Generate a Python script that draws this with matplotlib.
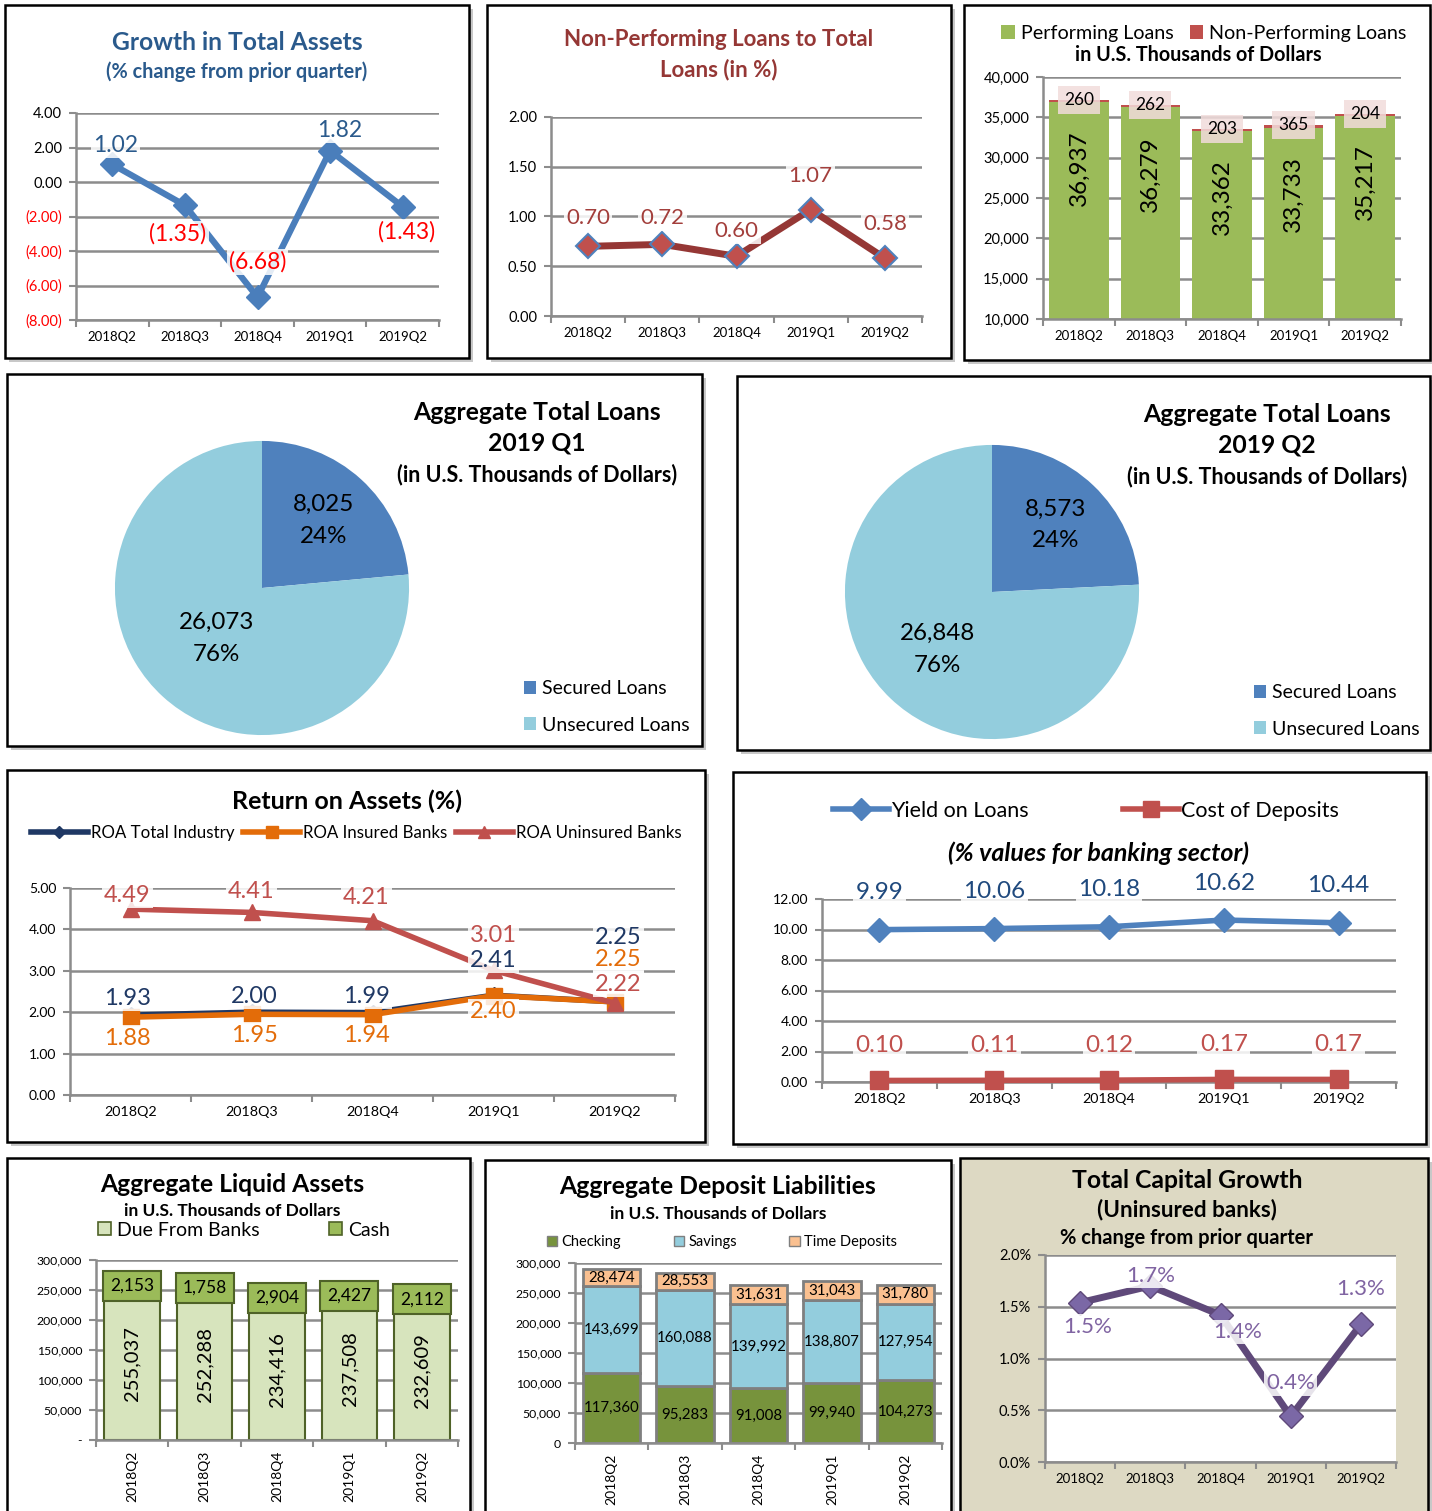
import numpy as np
import matplotlib.pyplot as plt
from matplotlib.patches import Rectangle
from matplotlib.lines import Line2D

plt.rcParams['font.family'] = ['Lato', 'DejaVu Sans']

# --- DATA ---
quarters = ['2018Q2', '2018Q3', '2018Q4', '2019Q1', '2019Q2']

asset_growth = [1.02, -1.35, -6.68, 1.82, -1.43]
npl_ratio = [0.70, 0.72, 0.60, 1.07, 0.58]

performing_loans = [36937, 36279, 33362, 33733, 35217]
non_performing_loans = [260, 262, 203, 365, 204]

loan_types = ['Secured Loans', 'Unsecured Loans']
loans_2019q1 = [8025, 26073]
loans_2019q2 = [8573, 26848]

roa_total = [1.93, 2.00, 1.99, 2.41, 2.25]
roa_insured = [1.88, 1.95, 1.94, 2.40, 2.25]
roa_uninsured = [4.49, 4.41, 4.21, 3.01, 2.22]

yield_on_loans = [9.99, 10.06, 10.18, 10.62, 10.44]
cost_of_deposits = [0.10, 0.11, 0.12, 0.17, 0.17]

due_from_banks = [255037, 252288, 234416, 237508, 232609]
cash = [2153, 1758, 2904, 2427, 2112]

checking = [117360, 95283, 91008, 99940, 104273]
savings = [143699, 160088, 139992, 138807, 127954]
time_deposits = [28474, 28553, 31631, 31043, 31780]

capital_growth = [1.54, 1.70, 1.42, 0.44, 1.33]

# --- LAYOUT HELPERS (pixel coords, origin top-left) ---
W, H = 1432, 1511
fig = plt.figure(figsize=(W / 100, H / 100), dpi=100)
fig.patch.set_facecolor('white')

GRID = '#8c8c8c'
x = np.arange(len(quarters))


def fx(px):
    return px / W


def fy(py):
    return 1 - py / H


def panel(x0, y0, x1, y1, face='white'):
    fig.add_artist(Rectangle((fx(x0 + 4), fy(y1 + 4)), (x1 - x0) / W, (y1 - y0) / H,
                             transform=fig.transFigure, fc='#c8c8c8', ec='none', zorder=-3))
    fig.add_artist(Rectangle((fx(x0), fy(y1)), (x1 - x0) / W, (y1 - y0) / H,
                             transform=fig.transFigure, fc=face, ec='black', lw=1.8, zorder=-2))


def ftext(px, py, s, size, **kw):
    fig.text(fx(px), fy(py), s, ha='center', va='center', fontsize=size, **kw)


def cat_axes(x0, y0, x1, y1, ylim, yticks, fmt, ysize=10.5, xsize=9.5, xrot=0):
    ax = fig.add_axes([fx(x0), fy(y1), (x1 - x0) / W, (y1 - y0) / H])
    ax.patch.set_alpha(0)
    ax.set_xlim(-0.5, len(quarters) - 0.5)
    ax.set_ylim(*ylim)
    ax.set_yticks(yticks)
    ax.set_yticklabels([fmt(v) for v in yticks], fontsize=ysize)
    ax.set_xticks(x)
    ax.set_xticklabels(quarters, fontsize=xsize, rotation=xrot)
    ax.set_xticks(np.arange(-0.5, len(quarters)), minor=True)
    ax.tick_params(axis='x', which='major', length=0, pad=8)
    ax.tick_params(axis='x', which='minor', length=5, color=GRID, width=1.5)
    ax.tick_params(axis='y', length=5, color=GRID, width=1.5, pad=5)
    ax.grid(axis='y', color=GRID, lw=1.8)
    ax.set_axisbelow(True)
    for s in ('top', 'right'):
        ax.spines[s].set_visible(False)
    for s in ('left', 'bottom'):
        ax.spines[s].set_color(GRID)
        ax.spines[s].set_linewidth(1.8)
    return ax


def point_labels(ax, values, texts, offsets, colors, size=16):
    if isinstance(colors, str):
        colors = [colors] * len(values)
    for i, (v, t, off, c) in enumerate(zip(values, texts, offsets, colors)):
        ax.annotate(t, (i, v), xytext=off, textcoords='offset pixels',
                    ha='center', va='center', fontsize=size, color=c, zorder=6,
                    bbox=dict(boxstyle='square,pad=0.1', fc='white', ec='none', alpha=0.85))


# --- 1. Growth in Total Assets ---
panel(5, 5, 469, 358)
ftext(237, 43, 'Growth in Total Assets', 17.7, fontweight='bold', color='#2a5a8c')
ftext(237, 72, '(% change from prior quarter)', 14.3, fontweight='bold', color='#2a5a8c')


def paren(v):
    return f'{v:.2f}' if v >= 0 else f'({-v:.2f})'


ticks1 = np.arange(-8, 5, 2)
ax = cat_axes(76, 113, 439, 320, (-8, 4), ticks1, paren)
for lab, v in zip(ax.get_yticklabels(), ticks1):
    lab.set_color('red' if v < 0 else 'black')
ax.plot(x, asset_growth, color='#4a7ebb', lw=4.5, marker='D', ms=12, zorder=3)
point_labels(ax, asset_growth, [paren(v) for v in asset_growth],
             [(3, 19), (-7, -29), (0, 35), (10, 20), (4, -25)],
             ['#2a5a8c' if v >= 0 else 'red' for v in asset_growth], size=16.5)

# --- 2. Non-Performing Loans ratio ---
panel(487, 5, 951, 358)
ftext(719, 40, 'Non-Performing Loans to Total', 16, fontweight='bold', color='#953735')
ftext(719, 70, 'Loans (in %)', 16, fontweight='bold', color='#953735')
ax = cat_axes(551, 117, 922, 316, (0, 2), np.arange(0, 2.01, 0.5), lambda v: f'{v:.2f}')
ax.plot(x, npl_ratio, color='#953735', lw=5, marker='D', ms=12,
        mfc='#c0504d', mec='#4f81bd', mew=1.5, zorder=3)
point_labels(ax, npl_ratio, [f'{v:.2f}' for v in npl_ratio],
             [(0, 28), (0, 26), (0, 25), (0, 34), (0, 34)], '#a33f3c')

# --- 3. Performing / Non-performing loans ---
panel(964, 5, 1430, 360)
fig.legend(handles=[Rectangle((0, 0), 1, 1, fc='#9bbb59'), Rectangle((0, 0), 1, 1, fc='#c0504d')],
           labels=['Performing Loans', 'Non-Performing Loans'], loc='center',
           bbox_to_anchor=(fx(1204), fy(33)), ncol=2, frameon=False, fontsize=14.2,
           handlelength=0.7, handleheight=0.7, handletextpad=0.3, columnspacing=0.8, borderpad=0)
ftext(1198, 55, 'in U.S. Thousands of Dollars', 14.2, fontweight='bold')
ax = cat_axes(1043, 77, 1401, 319, (10000, 40000), np.arange(10000, 40001, 5000), lambda v: f'{v:,}')
ax.bar(x, performing_loans, width=0.83, color='#9bbb59')
ax.bar(x, non_performing_loans, width=0.83, bottom=performing_loans, color='#c0504d')
for i, (p, n) in enumerate(zip(performing_loans, non_performing_loans)):
    ax.text(i, p - 8300, f'{p:,}', rotation=90, ha='center', va='center', fontsize=17.5)
    ax.text(i, p + n, f'{n:,}', ha='center', va='center', fontsize=12.5,
            bbox=dict(boxstyle='square,pad=0.35', fc='#f2dcdb', ec='none', alpha=0.85))


# --- 4/5. Pies ---
def pie_panel(box, cx, cy, values, title, title_x, leg_x, leg_y, radii):
    panel(*box)
    pax = fig.add_axes([fx(cx - 150), fy(cy + 150), 300 / W, 300 / H])
    pax.pie(values, colors=['#4f81bd', '#93cddd'], startangle=90, counterclock=False,
            wedgeprops=dict(lw=0))
    pax.set_xlim(-1.02, 1.02)
    pax.set_ylim(-1.02, 1.02)
    total = sum(values)
    start = 0
    for v, r in zip(values, radii):
        mid = np.deg2rad(90 - 360 * (start + v / 2) / total)
        pax.text(r * np.cos(mid), r * np.sin(mid), f'{v:,}\n{100 * v / total:.0f}%',
                 ha='center', va='center', fontsize=17.4, linespacing=1.65)
        start += v
    ty = box[1] + 38
    for line, size in zip(title, [17.8, 17.8, 15.5]):
        ftext(title_x, ty, line, size, fontweight='bold')
        ty += 31.5
    fig.legend(handles=[Rectangle((0, 0), 1, 1, fc='#4f81bd'), Rectangle((0, 0), 1, 1, fc='#93cddd')],
               labels=loan_types, loc='center left', bbox_to_anchor=(fx(leg_x), fy(leg_y)),
               frameon=False, fontsize=14, handlelength=0.65, handleheight=0.65,
               handletextpad=0.3, labelspacing=1.0, borderpad=0)


pie_panel((7, 374, 702, 746), 262, 588, loans_2019q1,
          ['Aggregate Total Loans', '2019 Q1', '(in U.S. Thousands of Dollars)'], 537, 514, 707,
          [0.62, 0.46])
pie_panel((737, 376, 1430, 750), 992, 592, loans_2019q2,
          ['Aggregate Total Loans', '2019 Q2', '(in U.S. Thousands of Dollars)'], 1267, 1244, 711,
          [0.63, 0.54])

# --- 6. Return on Assets ---
panel(7, 770, 705, 1142)
ftext(347, 801, 'Return on Assets (%)', 18, fontweight='bold')
roa_styles = [('#1f3864', 'D', 8), ('#e36c09', 's', 11), ('#c0504d', '^', 11)]
fig.legend(handles=[Line2D([], [], color=c, lw=4, marker=m, ms=s * 0.8) for c, m, s in roa_styles],
           labels=['ROA Total Industry', 'ROA Insured Banks', 'ROA Uninsured Banks'],
           loc='center', bbox_to_anchor=(fx(356), fy(833)), ncol=3, frameon=False, fontsize=12.2,
           handlelength=3.4, handletextpad=0.15, columnspacing=0.5, borderpad=0)
ax = cat_axes(70, 888, 675, 1095, (0, 5), np.arange(0, 5.01, 1), lambda v: f'{v:.2f}',
              ysize=10, xsize=10.3)
for series, (c, m, s) in zip([roa_total, roa_insured, roa_uninsured], roa_styles):
    ax.plot(x, series, color=c, lw=4, marker=m, ms=s, zorder=3)
point_labels(ax, roa_uninsured, [f'{v:.2f}' for v in roa_uninsured],
             [(-3, 14), (0, 21), (-6, 23), (0, 35), (4, 19)], '#c0504d', size=17)
point_labels(ax, roa_total, [f'{v:.2f}' for v in roa_total],
             [(-3, 17), (3, 16), (-6, 16), (0, 35), (4, 64)], '#1f3864', size=17)
point_labels(ax, roa_insured, [f'{v:.2f}' for v in roa_insured],
             [(-3, -21), (3, -21), (-6, -21), (0, -16), (4, 42)], '#e36c09', size=17)

# --- 7. Yield on Loans / Cost of Deposits ---
panel(733, 772, 1426, 1144)
fig.legend(handles=[Line2D([], [], color='#4f81bd', lw=4, marker='D', ms=11),
                    Line2D([], [], color='#c0504d', lw=4, marker='s', ms=11)],
           labels=['Yield on Loans', 'Cost of Deposits'], loc='center',
           bbox_to_anchor=(fx(1086), fy(811)), ncol=2, frameon=False, fontsize=15.5,
           handlelength=2.6, handletextpad=0.1, columnspacing=4.4, borderpad=0)
ftext(1099, 853, '(% values for banking sector)', 18, fontweight='bold', fontstyle='italic')
ax = cat_axes(822, 899, 1396, 1082, (0, 12), np.arange(0, 12.01, 2), lambda v: f'{v:.2f}',
              ysize=10, xsize=10.3)
ax.plot(x, yield_on_loans, color='#4f81bd', lw=4, marker='D', ms=12, zorder=3, clip_on=False)
ax.plot(x, cost_of_deposits, color='#c0504d', lw=4, marker='s', ms=13, zorder=3, clip_on=False)
point_labels(ax, yield_on_loans, [f'{v:.2f}' for v in yield_on_loans], [(0, 37)] * 5, '#1f497d',
             size=17.5)
point_labels(ax, cost_of_deposits, [f'{v:.2f}' for v in cost_of_deposits], [(0, 35)] * 5, '#c0504d',
             size=17.5)

# --- 8. Aggregate Liquid Assets ---
panel(7, 1158, 470, 1520)
ftext(232, 1184, 'Aggregate Liquid Assets', 17.7, fontweight='bold')
ftext(232, 1211, 'in U.S. Thousands of Dollars', 12.5, fontweight='bold')
fig.legend(handles=[Rectangle((0, 0), 1, 1, fc='#d7e4bd', ec='#4f6228', lw=1.2),
                    Rectangle((0, 0), 1, 1, fc='#9bbb59', ec='#4f6228', lw=1.2)],
           labels=['Due From Banks', 'Cash'], loc='center', bbox_to_anchor=(fx(244), fy(1230)),
           ncol=2, frameon=False, fontsize=14, handlelength=0.65, handleheight=0.65,
           handletextpad=0.3, columnspacing=3.6, borderpad=0)
ax = cat_axes(96, 1260, 458, 1440, (0, 300000), np.arange(0, 300001, 50000),
              lambda v: '-' if v == 0 else f'{v:,}', ysize=8.8, xsize=10, xrot=90)
ax.bar(x, due_from_banks, width=0.77, fc='#d7e4bd', ec='#4f6228', lw=1.5)
ax.bar(x, cash, width=0.77, bottom=due_from_banks, fc='#9bbb59', ec='#4f6228', lw=1.5)
for i, (d, c) in enumerate(zip(due_from_banks, cash)):
    ax.text(i, d / 2, f'{d:,}', rotation=90, ha='center', va='center', fontsize=14.5)
    ax.text(i, d + c, f'{c:,}', ha='center', va='center', fontsize=12.5, zorder=5,
            bbox=dict(boxstyle='square,pad=0.4', fc='#9bbb59', ec='#4f6228', lw=1.5))

# --- 9. Aggregate Deposit Liabilities ---
panel(485, 1160, 951, 1520)
ftext(718, 1187, 'Aggregate Deposit Liabilities', 17.8, fontweight='bold')
ftext(718, 1214, 'in U.S. Thousands of Dollars', 12.5, fontweight='bold')
dep_colors = ['#77933c', '#93cddd', '#fac090']
fig.legend(handles=[Rectangle((0, 0), 1, 1, fc=c, ec='#7f7f7f', lw=1) for c in dep_colors],
           labels=['Checking', 'Savings', 'Time Deposits'], loc='center',
           bbox_to_anchor=(fx(722), fy(1242)), ncol=3, frameon=False, fontsize=10.5,
           handlelength=0.7, handleheight=0.7, handletextpad=0.3, columnspacing=3.6, borderpad=0)
ax = cat_axes(575, 1263, 942, 1443, (0, 300000), np.arange(0, 300001, 50000),
              lambda v: f'{v:,}', ysize=8.8, xsize=10, xrot=90)
bottom = np.zeros(len(quarters))
for series, c in zip([checking, savings, time_deposits], dep_colors):
    ax.bar(x, series, width=0.78, bottom=bottom, fc=c, ec='#7f7f7f', lw=2)
    for i, v in enumerate(series):
        ax.text(i, bottom[i] + v / 2, f'{v:,}', ha='center', va='center', fontsize=10.8)
    bottom += series

# --- 10. Total Capital Growth ---
panel(960, 1158, 1428, 1520, face='#ddd9c3')
ftext(1187, 1180, 'Total Capital Growth', 17.8, fontweight='bold')
ftext(1187, 1210, '(Uninsured banks)', 16.2, fontweight='bold')
ftext(1187, 1238, '% change from prior quarter', 14.5, fontweight='bold')
ax = cat_axes(1045, 1255, 1396, 1462, (0, 2), np.arange(0, 2.01, 0.5), lambda v: f'{v:.1f}%')
ax.patch.set_alpha(1)
ax.patch.set_facecolor('white')
ax.plot(x, capital_growth, color='#5f497a', lw=5, marker='D', ms=12,
        mfc='#7b68a6', mec='#5f497a', zorder=3)
point_labels(ax, capital_growth, [f'{v:.1f}%' for v in capital_growth],
             [(8, -24), (0, 10), (17, -17), (0, 33), (0, 35)], '#8064a2')

fig.savefig('out.png', dpi=100)
